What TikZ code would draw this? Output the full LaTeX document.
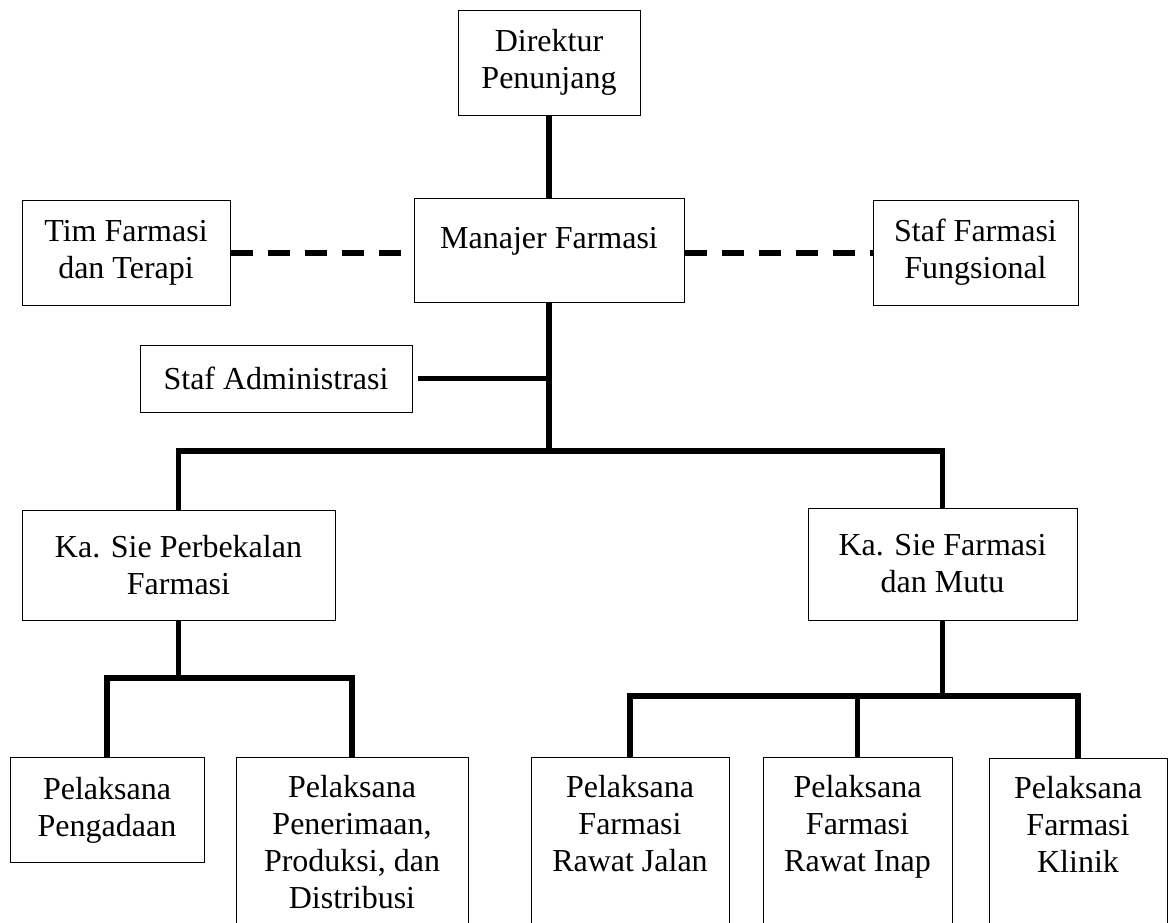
\documentclass[tikz,border=0pt]{standalone}
\usepackage{fontspec}
\setmainfont{Liberation Serif}
\usepackage{tikz}

\begin{document}
\begin{tikzpicture}[x=1pt, y=-1pt,
  kotak/.style={draw, line width=1pt, align=center, inner xsep=0pt, inner ysep=0pt,
    font=\fontsize{32}{37}\selectfont},
  pelaksana/.style={kotak, anchor=north, inner ysep=18pt, text depth=200pt},
  garis/.style={line width=5.5pt},
  putus/.style={line width=6pt, dash pattern=on 22pt off 15pt}]

\clip (0,0) rectangle (1168,922);

% pimpinan
\node[kotak, minimum width=182pt, minimum height=105pt] (dir) at (549,62.5) {Direktur\\Penunjang};
\node[kotak, minimum width=270pt, minimum height=104pt, text height=22pt, text depth=26pt] (man) at (549,250) {Manajer Farmasi};
\node[kotak, minimum width=208pt, minimum height=105pt] (tim) at (126,252.5) {Tim Farmasi\\dan Terapi};
\node[kotak, minimum width=205pt, minimum height=105pt] (fung) at (975.5,252.5) {Staf Farmasi\\Fungsional};
\node[kotak, minimum width=272pt, minimum height=67pt] (adm) at (276,378.5) {Staf Administrasi};

% seksi
\node[kotak, minimum width=313pt, minimum height=110pt] (sie1) at (178.5,565) {Ka. Sie Perbekalan\\Farmasi};
\node[kotak, minimum width=269pt, minimum height=112pt] (sie2) at (942.5,564) {Ka. Sie Farmasi\\dan Mutu};

% pelaksana
\node[kotak, anchor=north, minimum width=194pt, minimum height=105pt] (pel1) at (107,757) {Pelaksana\\Pengadaan};
\node[pelaksana, minimum width=232pt] (pel2) at (352,757) {Pelaksana\\Penerimaan,\\Produksi, dan\\Distribusi};
\node[pelaksana, minimum width=198pt] (pel3) at (630,757) {Pelaksana\\Farmasi\\Rawat Jalan};
\node[pelaksana, minimum width=189pt] (pel4) at (857.5,757) {Pelaksana\\Farmasi\\Rawat Inap};
\node[pelaksana, minimum width=178pt] (pel5) at (1078,758) {Pelaksana\\Farmasi\\Klinik};

\coordinate (cab) at (549,451);
\coordinate (cabkiri) at (178.5,678);
\coordinate (cabkanan) at (942.5,696);

\draw[garis] (dir.south) -- (man.north);
\draw[putus] (tim.east) -- (tim.east -| man.west);
\draw[putus] (man.east |- fung.west) -- (fung.west);
\draw[garis] (man.south) -- (cab);
\draw[garis, shorten <=5pt] (adm.east) -- (adm.east -| cab);
\draw[garis] (sie1.north) |- (cab) -| (sie2.north);

\draw[garis] (sie1.south) -- (cabkiri);
\draw[garis] (pel1.north) |- (cabkiri) -| (pel2.north);
\draw[garis] (sie2.south) -- (cabkanan);
\draw[garis] (pel3.north) |- (cabkanan) -| (pel5.north);
\draw[garis] (pel4.north) -- (pel4.north |- cabkanan);

\end{tikzpicture}
\end{document}
